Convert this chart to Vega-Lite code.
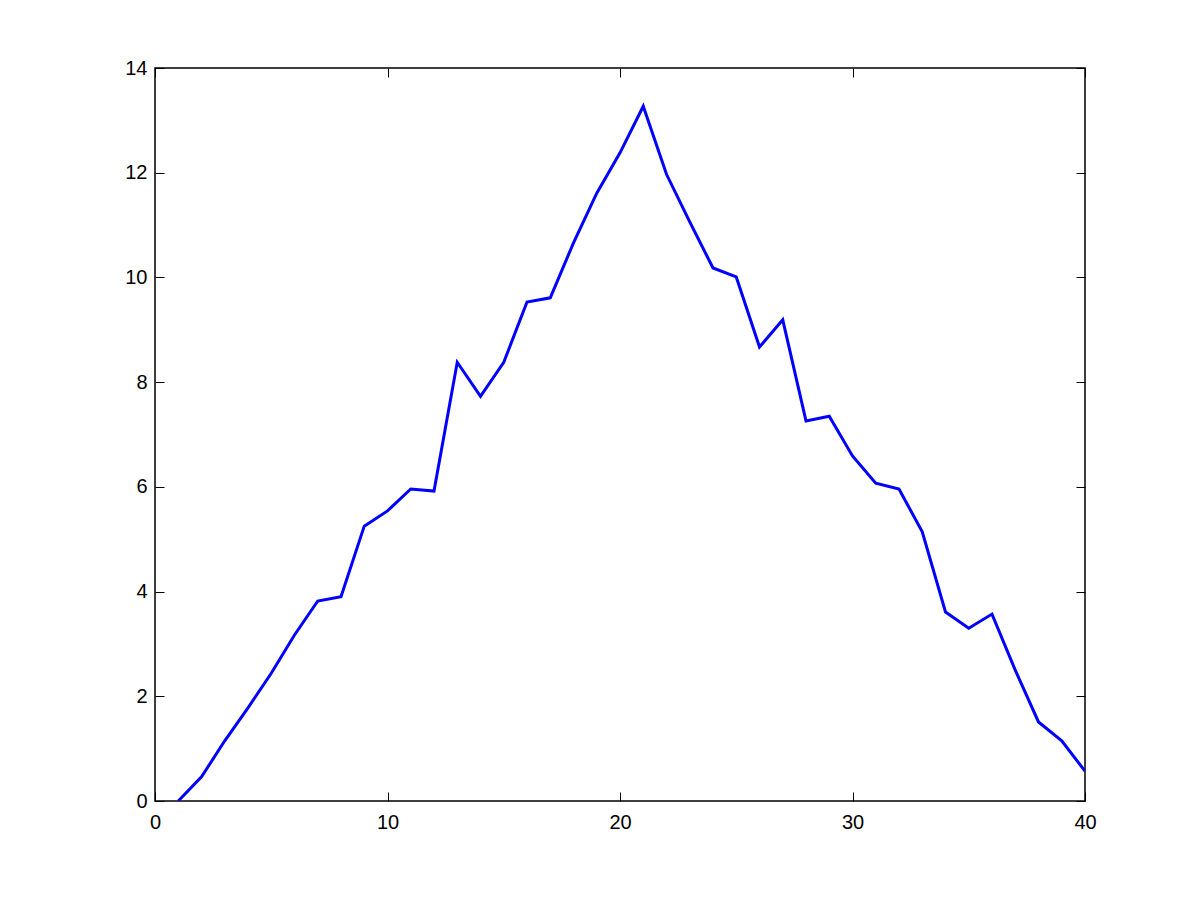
{
  "$schema": "https://vega.github.io/schema/vega-lite/v6.json",
  "width": 930,
  "height": 733,
  "autosize": {"type": "none"},
  "padding": {"left": 155, "top": 68, "right": 115, "bottom": 99},
  "background": "white",
  "config": {
    "view": {"stroke": "black", "strokeWidth": 1.5},
    "axis": {
      "domain": false,
      "grid": false,
      "tickColor": "black",
      "tickSize": -9,
      "tickWidth": 1,
      "labelFont": "Liberation Sans",
      "labelFontSize": 20,
      "labelColor": "black",
      "labelFlush": false,
      "title": null
    }
  },
  "data": {
    "values": [
      {"x": 1, "y": 0.0},
      {"x": 2, "y": 0.46},
      {"x": 3, "y": 1.15},
      {"x": 4, "y": 1.78},
      {"x": 5, "y": 2.44},
      {"x": 6, "y": 3.17},
      {"x": 7, "y": 3.82},
      {"x": 8, "y": 3.9},
      {"x": 9, "y": 5.25},
      {"x": 10, "y": 5.54},
      {"x": 11, "y": 5.96},
      {"x": 12, "y": 5.92},
      {"x": 13, "y": 8.38},
      {"x": 14, "y": 7.73},
      {"x": 15, "y": 8.38},
      {"x": 16, "y": 9.53},
      {"x": 17, "y": 9.61},
      {"x": 18, "y": 10.66},
      {"x": 19, "y": 11.61},
      {"x": 20, "y": 12.38},
      {"x": 21, "y": 13.27},
      {"x": 22, "y": 11.97},
      {"x": 23, "y": 11.06},
      {"x": 24, "y": 10.18},
      {"x": 25, "y": 10.01},
      {"x": 26, "y": 8.67},
      {"x": 27, "y": 9.19},
      {"x": 28, "y": 7.26},
      {"x": 29, "y": 7.35},
      {"x": 30, "y": 6.59},
      {"x": 31, "y": 6.07},
      {"x": 32, "y": 5.96},
      {"x": 33, "y": 5.14},
      {"x": 34, "y": 3.61},
      {"x": 35, "y": 3.3},
      {"x": 36, "y": 3.57},
      {"x": 37, "y": 2.5},
      {"x": 38, "y": 1.51},
      {"x": 39, "y": 1.15},
      {"x": 40, "y": 0.57}
    ]
  },
  "layer": [
    {
      "mark": {"type": "line", "color": "#0000ff", "strokeWidth": 3, "clip": true},
      "encoding": {
        "x": {"field": "x", "type": "quantitative", "scale": {"domain": [0, 40], "nice": false},
              "axis": {"orient": "bottom", "values": [0, 10, 20, 30, 40], "labelPadding": 20}},
        "y": {"field": "y", "type": "quantitative", "scale": {"domain": [0, 14], "nice": false},
              "axis": {"orient": "left", "values": [0, 2, 4, 6, 8, 10, 12, 14], "labelPadding": 17}}
      }
    },
    {
      "mark": {"type": "line", "opacity": 0},
      "encoding": {
        "x": {"field": "x", "type": "quantitative",
              "axis": {"orient": "top", "values": [0, 10, 20, 30, 40], "labels": false}},
        "y": {"field": "y", "type": "quantitative",
              "axis": {"orient": "right", "values": [0, 2, 4, 6, 8, 10, 12, 14], "labels": false}}
      }
    }
  ]
}
